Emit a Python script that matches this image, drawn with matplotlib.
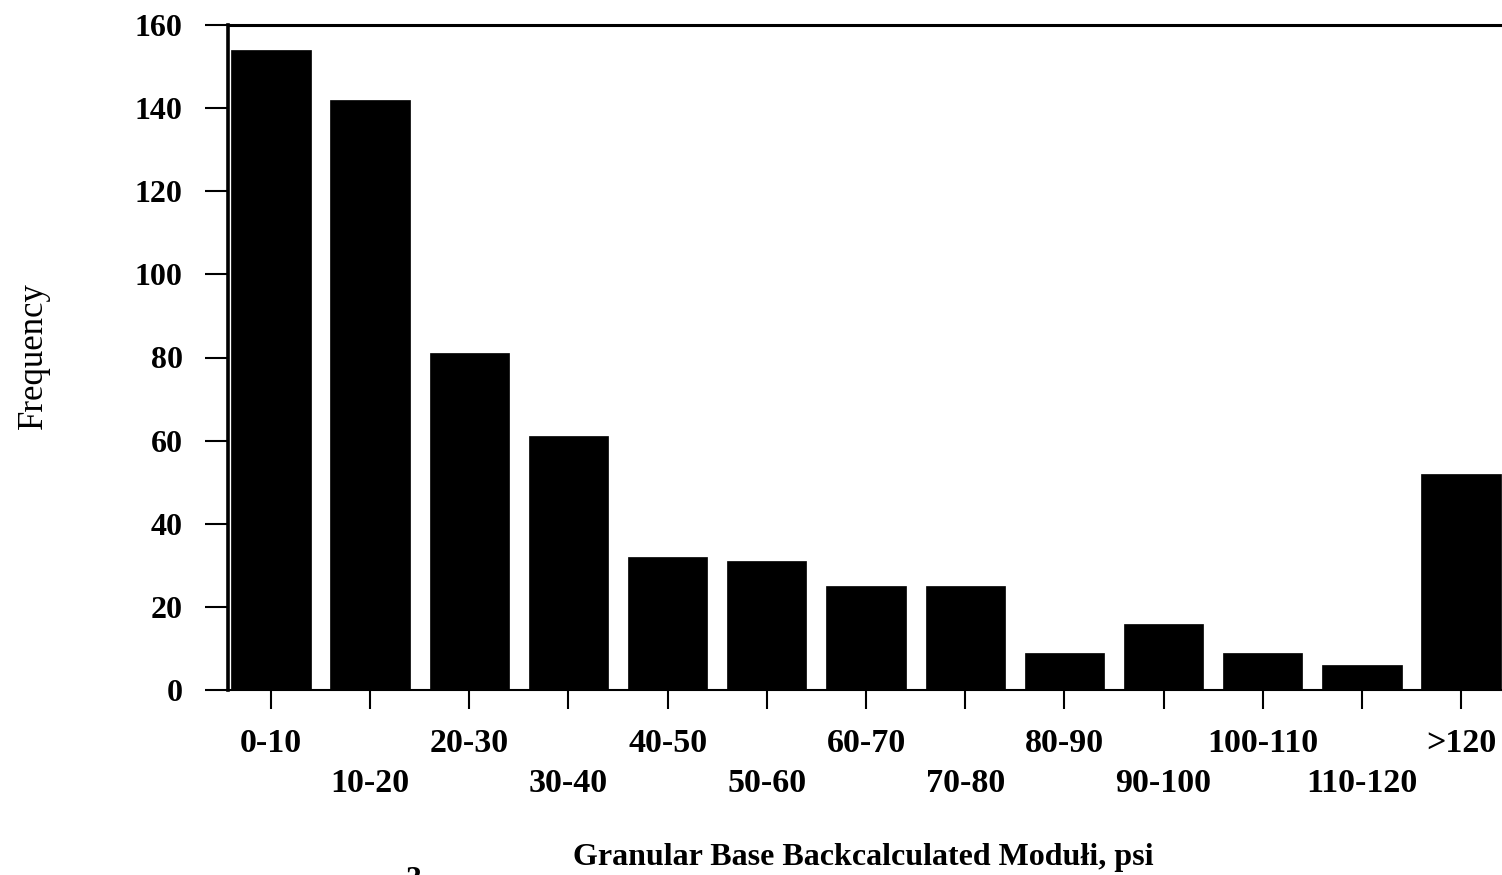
import matplotlib
matplotlib.use('Agg')
import matplotlib.pyplot as plt
import matplotlib.transforms as mtransforms

# data
bins = ['0-10', '10-20', '20-30', '30-40', '40-50', '50-60', '60-70',
        '70-80', '80-90', '90-100', '100-110', '110-120', '>120']
freq = [154, 142, 81, 61, 32, 31, 25, 25, 9, 16, 9, 6, 52]
yticks = [0, 20, 40, 60, 80, 100, 120, 140, 160]

plt.rcParams['font.family'] = 'Liberation Serif'
plt.rcParams['font.weight'] = 'bold'

fig = plt.figure(figsize=(15.02, 8.75), dpi=100)
fig.patch.set_facecolor('white')
ax = fig.add_axes([228/1502, 185/875, 1276/1502, 665/875])

x = list(range(len(bins)))
ax.bar(x, freq, width=0.8, color='black', edgecolor='black', linewidth=0.5)

ax.set_xlim(-0.433, len(bins) - 1 + 0.433)
ax.set_ylim(0, 160)
ax.set_yticks(yticks)
ax.set_yticklabels([str(v) for v in yticks], fontsize=23, fontweight='bold')

# staggered category labels: even ones as tick labels, odd ones on a second row
ax.set_xticks(x)
ax.set_xticklabels([b if i % 2 == 0 else '' for i, b in enumerate(bins)],
                   fontsize=24.5, fontweight='bold')
trans = mtransforms.blended_transform_factory(ax.transData, ax.transAxes)
for i, b in enumerate(bins):
    if i % 2 == 1:
        ax.text(i, -93/665, b, transform=trans, ha='center', va='center',
                fontsize=24.5, fontweight='bold', clip_on=False)

ax.tick_params(axis='both', width=1.5, color='black', direction='out')
ax.tick_params(axis='x', length=14, pad=13)
ax.tick_params(axis='y', length=16.5, pad=16)

ax.spines['left'].set_linewidth(2.6)
ax.spines['top'].set_linewidth(2.2)
ax.spines['bottom'].set_linewidth(1.5)
ax.spines['right'].set_visible(False)

fig.text(33/1502, 1 - 356/875, 'Frequency', rotation=90, ha='center', va='center',
         fontsize=25, fontweight='normal')
fig.text(863/1502, 1 - 857/875, 'Granular Base Backcalculated Modułi, psi',
         ha='center', va='center', fontsize=23, fontweight='bold')
fig.text(414/1502, 1 - 866/875, '3', ha='center', va='top', fontsize=23, fontweight='bold')

plt.savefig('out.png', dpi=100, facecolor='white')
plt.close()
